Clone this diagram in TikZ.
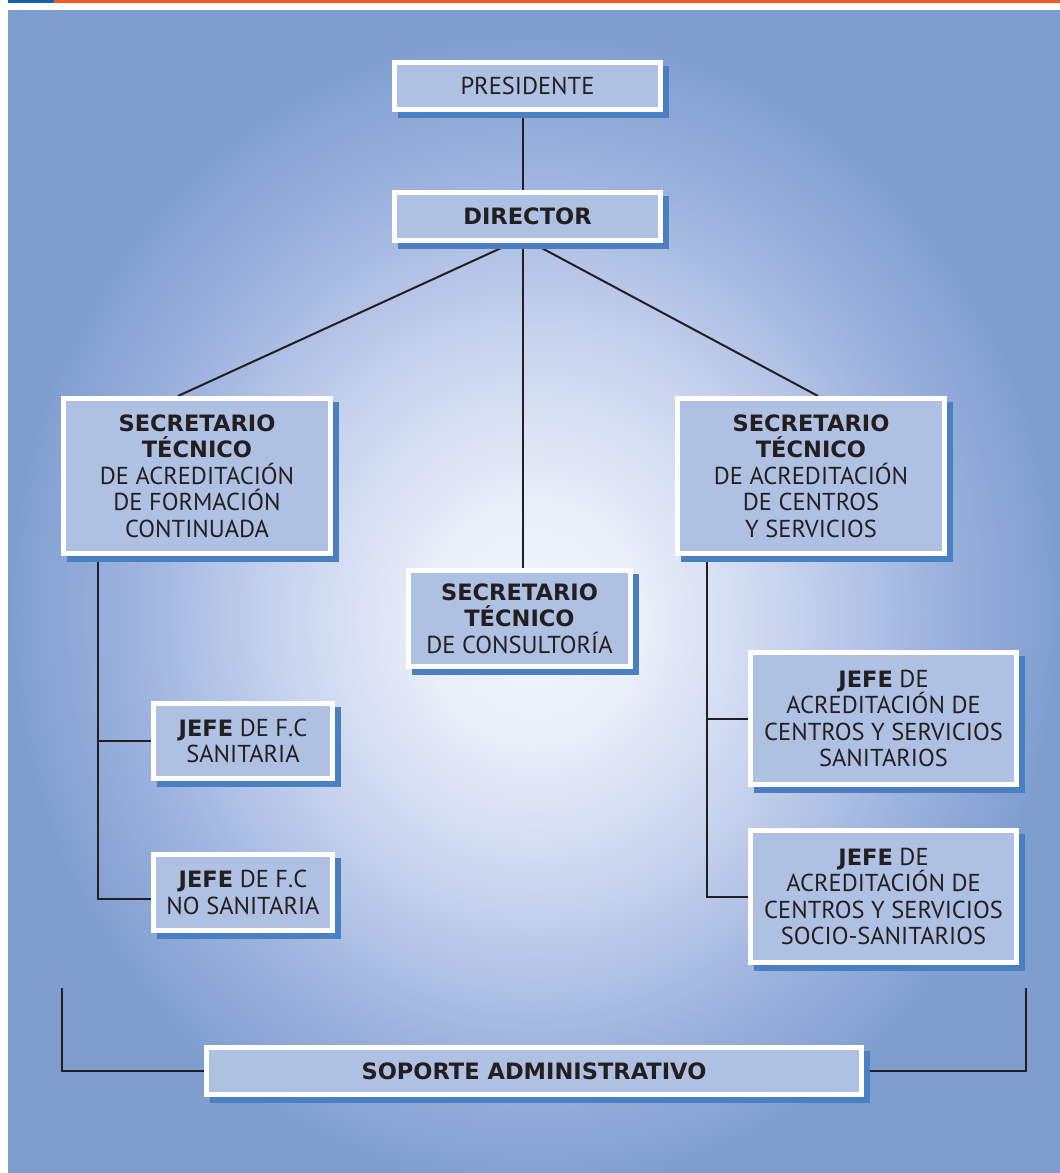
\documentclass[tikz,border=0pt]{standalone}
\usepackage{fontspec}
\setmainfont{PT Sans}
\newfontfamily\boldfam{DejaVu Sans}[Scale=0.92]
\newcommand{\bx}[1]{{\boldfam\bfseries #1}}
\usetikzlibrary{shadows,calc}
\definecolor{panelblue}{HTML}{7F9ED0}
\definecolor{panelmid}{HTML}{9DB3DE}
\definecolor{panellight}{HTML}{C8D4EE}
\definecolor{panelcenter}{HTML}{F2F5FB}
\definecolor{boxfill}{HTML}{AFC1E3}
\definecolor{shadowblue}{HTML}{4A7FC1}
\definecolor{linecol}{HTML}{231F20}
\definecolor{barblue}{HTML}{0F62AE}
\definecolor{barorange}{HTML}{F45A28}
\pgfdeclareradialshading{panelshade}{\pgfpoint{0bp}{-1.5bp}}{%
  color(0bp)=(panelcenter); color(5bp)=(panelcenter!80!panellight);
  color(12bp)=(panellight); color(19bp)=(panelmid);
  color(25bp)=(panelblue); color(50bp)=(panelblue)}
\pgfdeclarelayer{panel}
\pgfdeclarelayer{lines}
\pgfsetlayers{panel,lines,main}
\tikzset{
  orgbox/.style={draw=white, line width=5pt, fill=boxfill, align=center,
    inner sep=0pt, text=linecol,
    font=\fontsize{24.5}{26.5}\selectfont,
    general shadow={fill=shadowblue, draw=shadowblue, line width=5pt,
      shadow xshift=6pt, shadow yshift=-6pt}},
  conn/.style={draw=linecol, line width=2pt}
}
\begin{document}
\begin{tikzpicture}[x=1pt,y=-1pt]
\useasboundingbox (0,0) rectangle (1060,1173);
\begin{pgfonlayer}{panel}
  \fill[white] (0,0) rectangle (1060,1173);
  \fill[barblue] (8,0) rectangle (54,3);
  \fill[barorange] (54,0) rectangle (1060,3);
  \shade[shading=panelshade] (8,10) rectangle (1060,1173);
\end{pgfonlayer}

\node[orgbox, minimum width=266pt, minimum height=47pt] (pres) at (527.5,86) {PRESIDENTE};
\node[orgbox, minimum width=266pt, minimum height=48pt] (dir) at (527.5,216.5) {\bx{DIRECTOR}};
\node[orgbox, minimum width=267pt, minimum height=155pt] (secl) at (197,476)
  {\bx{SECRETARIO}\\\bx{TÉCNICO}\\DE ACREDITACIÓN\\DE FORMACIÓN\\CONTINUADA};
\node[orgbox, minimum width=267pt, minimum height=155pt] (secr) at (811,476)
  {\bx{SECRETARIO}\\\bx{TÉCNICO}\\DE ACREDITACIÓN\\DE CENTROS\\Y SERVICIOS};
\node[orgbox, minimum width=222pt, minimum height=96pt] (secm) at (519.5,618.5)
  {\bx{SECRETARIO}\\\bx{TÉCNICO}\\DE CONSULTORÍA};
\node[orgbox, minimum width=179pt, minimum height=75pt] (jl1) at (243,741)
  {\bx{JEFE} DE F.C\\SANITARIA};
\node[orgbox, minimum width=179pt, minimum height=76pt] (jl2) at (243,892.5)
  {\bx{JEFE} DE F.C\\NO SANITARIA};
\node[orgbox, minimum width=266pt, minimum height=132pt] (jr1) at (883.5,718.5)
  {\bx{JEFE} DE\\ACREDITACIÓN DE\\CENTROS Y SERVICIOS\\SANITARIOS};
\node[orgbox, minimum width=266pt, minimum height=132pt] (jr2) at (883.5,896.5)
  {\bx{JEFE} DE\\ACREDITACIÓN DE\\CENTROS Y SERVICIOS\\SOCIO-SANITARIOS};
\node[orgbox, minimum width=655pt, minimum height=47pt] (sop) at (534,1071)
  {\bx{SOPORTE ADMINISTRATIVO}};

\coordinate (hub) at (523,238);
\coordinate (sla) at ($(secl.north)+(-19,0)$);
\coordinate (sra) at ($(secr.north)+(7,0)$);
\coordinate (lx) at (98,556);
\coordinate (lb2) at (98,899);
\coordinate (rx) at (707,556);
\coordinate (bl) at (62,988);
\coordinate (br) at (1026,988);

\begin{pgfonlayer}{lines}
  \draw[conn] (pres.south -| hub) -- (hub |- dir.north);
  \draw[conn] (hub) -- (sla);
  \draw[conn] (hub) -- (sra);
  \draw[conn] (hub) -- (hub |- secm.north);
  \draw[conn] (lx |- secl.south) -- (lb2) -- (lb2 -| jl2.west);
  \draw[conn] (lx |- jl1.west) -- (jl1.west);
  \draw[conn] (rx |- secr.south) -- (rx |- jr2.west) -- (jr2.west);
  \draw[conn] (rx |- jr1.west) -- (jr1.west);
  \draw[conn] (bl) -- (bl |- sop.west) -- (sop.west);
  \draw[conn] (br) -- (br |- sop.east) -- (sop.east);
\end{pgfonlayer}
\end{tikzpicture}
\end{document}
